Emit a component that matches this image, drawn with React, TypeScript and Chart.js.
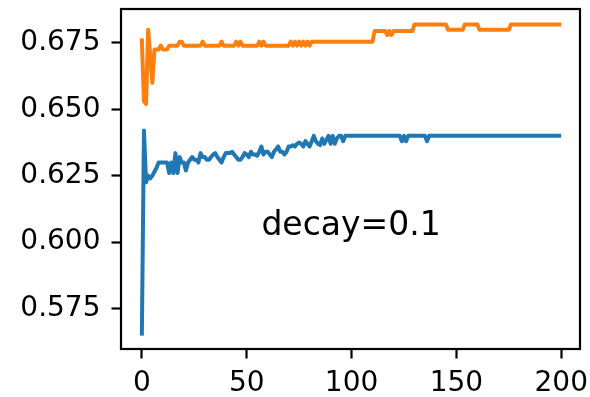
import React, { useEffect, useRef } from "react";
import { Chart, registerables } from "chart.js";

Chart.register(...registerables);

// blue series (index 0..199)
const blueValues: number[] = [
  0.5655, 0.642, 0.6225, 0.625, 0.624, 0.625, 0.6265, 0.628, 0.63, 0.63,
  0.63, 0.63, 0.63, 0.626, 0.63, 0.626, 0.6335, 0.626, 0.632, 0.63,
  0.63, 0.627, 0.63, 0.631, 0.632, 0.631, 0.631, 0.63, 0.6335, 0.632,
  0.632, 0.631, 0.631, 0.632, 0.633, 0.6335, 0.632, 0.631, 0.63, 0.632,
  0.6335, 0.6335, 0.6335, 0.634, 0.633, 0.632, 0.631, 0.631, 0.632, 0.6335,
  0.633, 0.632, 0.634, 0.633, 0.633, 0.6325, 0.634, 0.636, 0.633, 0.634,
  0.634, 0.633, 0.632, 0.634, 0.635, 0.636, 0.634, 0.634, 0.633, 0.634,
  0.636, 0.636, 0.6365, 0.636, 0.637, 0.6375, 0.637, 0.636, 0.638, 0.637,
  0.636, 0.638, 0.64, 0.638, 0.637, 0.6365, 0.639, 0.637, 0.6385, 0.64,
  0.637, 0.64, 0.637, 0.639, 0.64, 0.64, 0.638, 0.64, 0.64, 0.64,
  0.64, 0.64, 0.64, 0.64, 0.64, 0.64, 0.64, 0.64, 0.64, 0.64,
  0.64, 0.64, 0.64, 0.64, 0.64, 0.64, 0.64, 0.64, 0.64, 0.64,
  0.64, 0.64, 0.64, 0.64, 0.638, 0.64, 0.638, 0.64, 0.64, 0.64,
  0.64, 0.64, 0.64, 0.64, 0.64, 0.64, 0.638, 0.64, 0.64, 0.64,
  0.64, 0.64, 0.64, 0.64, 0.64, 0.64, 0.64, 0.64, 0.64, 0.64,
  0.64, 0.64, 0.64, 0.64, 0.64, 0.64, 0.64, 0.64, 0.64, 0.64,
  0.64, 0.64, 0.64, 0.64, 0.64, 0.64, 0.64, 0.64, 0.64, 0.64,
  0.64, 0.64, 0.64, 0.64, 0.64, 0.64, 0.64, 0.64, 0.64, 0.64,
  0.64, 0.64, 0.64, 0.64, 0.64, 0.64, 0.64, 0.64, 0.64, 0.64,
  0.64, 0.64, 0.64, 0.64, 0.64, 0.64, 0.64, 0.64, 0.64, 0.64,
];

// orange series (index 0..199)
const orangeValues: number[] = [
  0.676, 0.653, 0.652, 0.68, 0.67, 0.66, 0.6725, 0.6725, 0.6725, 0.674,
  0.6725, 0.6725, 0.6725, 0.674, 0.674, 0.674, 0.674, 0.674, 0.6755, 0.6755,
  0.674, 0.674, 0.674, 0.674, 0.674, 0.674, 0.674, 0.674, 0.674, 0.6755,
  0.674, 0.674, 0.674, 0.674, 0.674, 0.674, 0.674, 0.674, 0.6755, 0.674,
  0.674, 0.674, 0.674, 0.674, 0.674, 0.6755, 0.674, 0.6755, 0.674, 0.674,
  0.674, 0.674, 0.674, 0.674, 0.674, 0.674, 0.6755, 0.674, 0.6755, 0.674,
  0.674, 0.674, 0.674, 0.674, 0.674, 0.674, 0.674, 0.674, 0.674, 0.674,
  0.674, 0.6755, 0.674, 0.6755, 0.674, 0.6755, 0.674, 0.6755, 0.674, 0.6755,
  0.674, 0.6755, 0.6755, 0.6755, 0.6755, 0.6755, 0.6755, 0.6755, 0.6755, 0.6755,
  0.6755, 0.6755, 0.6755, 0.6755, 0.6755, 0.6755, 0.6755, 0.6755, 0.6755, 0.6755,
  0.6755, 0.6755, 0.6755, 0.6755, 0.6755, 0.6755, 0.6755, 0.6755, 0.6755, 0.6755,
  0.6755, 0.6795, 0.6795, 0.6795, 0.6795, 0.6795, 0.6795, 0.678, 0.6795, 0.678,
  0.6795, 0.6795, 0.6795, 0.6795, 0.6795, 0.6795, 0.6795, 0.6795, 0.6795, 0.6795,
  0.682, 0.682, 0.682, 0.682, 0.682, 0.682, 0.682, 0.682, 0.682, 0.682,
  0.682, 0.682, 0.682, 0.682, 0.682, 0.682, 0.68, 0.68, 0.68, 0.68,
  0.68, 0.68, 0.68, 0.68, 0.682, 0.682, 0.682, 0.682, 0.682, 0.682,
  0.682, 0.68, 0.68, 0.68, 0.68, 0.68, 0.68, 0.68, 0.68, 0.68,
  0.68, 0.68, 0.68, 0.68, 0.68, 0.68, 0.682, 0.682, 0.682, 0.682,
  0.682, 0.682, 0.682, 0.682, 0.682, 0.682, 0.682, 0.682, 0.682, 0.682,
  0.682, 0.682, 0.682, 0.682, 0.682, 0.682, 0.682, 0.682, 0.682, 0.682,
];

const xTickValues = [0, 50, 100, 150, 200];
const yTickValues = [0.575, 0.6, 0.625, 0.65, 0.675];

const annotationText = "decay=0.1";
const annotationX = 57;
const annotationY = 0.6027;

const FONT = "'DejaVu Sans', sans-serif";

export default function App() {
  const ref = useRef<HTMLCanvasElement>(null);

  useEffect(() => {
    if (!ref.current) return;

    const framePlugin = {
      id: "frame",
      afterDatasetsDraw(chart: any) {
        const { ctx, chartArea: a } = chart;
        ctx.save();
        ctx.strokeStyle = "#000";
        ctx.lineWidth = 2.2;
        ctx.strokeRect(a.left, a.top, a.right - a.left, a.bottom - a.top);
        ctx.restore();
      },
    };

    const annotationPlugin = {
      id: "annotation",
      afterDraw(chart: any) {
        const { ctx } = chart;
        const x = chart.scales.x.getPixelForValue(annotationX);
        const y = chart.scales.y.getPixelForValue(annotationY);
        ctx.save();
        ctx.font = `33px ${FONT}`;
        ctx.fillStyle = "#000";
        ctx.textAlign = "left";
        ctx.textBaseline = "alphabetic";
        ctx.fillText(annotationText, x, y);
        ctx.restore();
      },
    };

    const chart = new Chart(ref.current, {
      type: "line",
      data: {
        datasets: [
          {
            data: blueValues.map((v, i) => ({ x: i, y: v })),
            borderColor: "#1f77b4",
            borderWidth: 4,
            pointRadius: 0,
            tension: 0,
            borderJoinStyle: "round",
            borderCapStyle: "square",
            fill: false,
          },
          {
            data: orangeValues.map((v, i) => ({ x: i, y: v })),
            borderColor: "#ff7f0e",
            borderWidth: 4,
            pointRadius: 0,
            tension: 0,
            borderJoinStyle: "round",
            borderCapStyle: "square",
            fill: false,
          },
        ],
      },
      options: {
        responsive: false,
        devicePixelRatio: 1,
        animation: false,
        layout: { padding: { left: 0, right: 10, top: 9, bottom: 0 } },
        plugins: {
          legend: { display: false },
          tooltip: { enabled: false },
        },
        scales: {
          x: {
            type: "linear",
            min: -9.95,
            max: 208.95,
            afterBuildTicks: (s: any) => {
              s.ticks = xTickValues.map((v) => ({ value: v }));
            },
            afterFit: (s: any) => {
              s.height = 48;
              s.paddingLeft = 0;
              s.paddingRight = 0;
            },
            grid: {
              drawOnChartArea: false,
              drawTicks: true,
              tickLength: 9.5,
              tickWidth: 2.2,
              tickColor: "#000",
              color: "#000",
            },
            border: { display: false },
            ticks: {
              color: "#000",
              font: { family: FONT, size: 28, lineHeight: 0.6 },
              padding: 17,
              maxRotation: 0,
              autoSkip: false,
              callback: (v: any) => String(v),
            },
          },
          y: {
            type: "linear",
            min: 0.5597,
            max: 0.6878,
            afterBuildTicks: (s: any) => {
              s.ticks = yTickValues.map((v) => ({ value: v }));
            },
            afterFit: (s: any) => {
              s.width = 121;
              s.paddingTop = 0;
              s.paddingBottom = 0;
            },
            grid: {
              drawOnChartArea: false,
              drawTicks: true,
              tickLength: 9.5,
              tickWidth: 2.2,
              tickColor: "#000",
              color: "#000",
            },
            border: { display: false },
            ticks: {
              color: "#000",
              font: { family: FONT, size: 28, lineHeight: 0.6 },
              padding: 11,
              autoSkip: false,
              callback: (v: any) => Number(v).toFixed(3),
            },
          },
        },
      },
      plugins: [framePlugin, annotationPlugin],
    } as any);

    return () => chart.destroy();
  }, []);

  return (
    <div
      style={{
        position: "fixed",
        left: 0,
        top: 0,
        width: 590,
        height: 397,
        background: "#fff",
      }}
    >
      <canvas ref={ref} width={590} height={397} style={{ width: 590, height: 397, display: "block" }} />
    </div>
  );
}
